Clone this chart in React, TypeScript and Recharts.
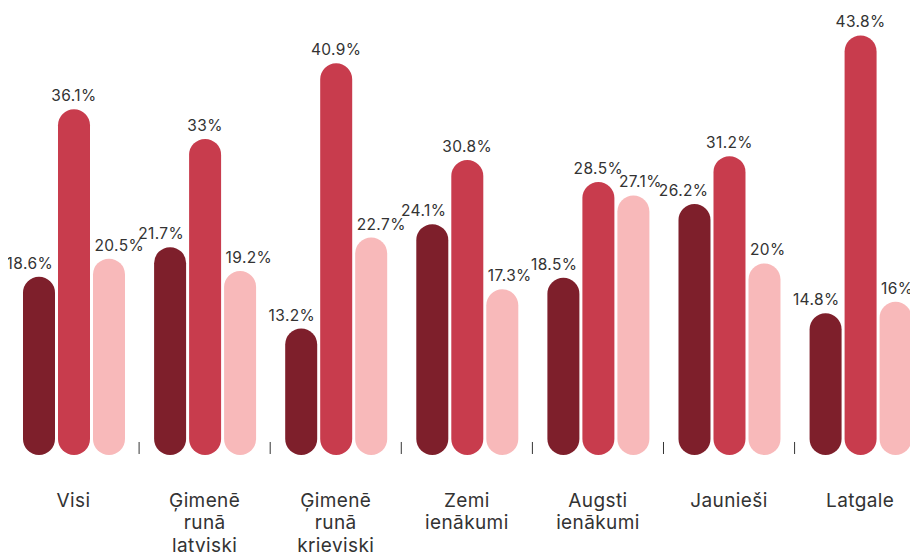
import { BarChart, Bar, XAxis, YAxis, LabelList } from "recharts";

const categories = [
  "Visi",
  "Ģimenē runā latviski",
  "Ģimenē runā krieviski",
  "Zemi ienākumi",
  "Augsti ienākumi",
  "Jaunieši",
  "Latgale",
];
const seriesA = [18.6, 21.7, 13.2, 24.1, 18.5, 26.2, 14.8];
const seriesB = [36.1, 33, 40.9, 30.8, 28.5, 31.2, 43.8];
const seriesC = [20.5, 19.2, 22.7, 17.3, 27.1, 20, 16];

const data = categories.map((name, i) => ({
  name,
  a: seriesA[i],
  b: seriesB[i],
  c: seriesC[i],
}));

const FONT = "Inter, 'Noto Sans', sans-serif";
const CHART_W = 917.7;
const BAND = CHART_W / categories.length;

function CategoryTick(props: any) {
  const { x, y, payload, index } = props;
  const words: string[] = String(payload.value).split(" ");
  return (
    <g>
      {index < categories.length - 1 && (
        <line x1={x + BAND / 2} x2={x + BAND / 2} y1={y - 13} y2={y - 1} stroke="#333" strokeWidth={1} />
      )}
      <text x={x} y={y + 52} textAnchor="middle" fontFamily={FONT} fontSize={19} letterSpacing={0.4} fill="#333">
        {words.map((w, i) => (
          <tspan key={i} x={x} dy={i === 0 ? 0 : 22.5}>
            {w}
          </tspan>
        ))}
      </text>
    </g>
  );
}

// dark labels hug the bar's right edge, light ones its left edge, middle ones are centred
const makeLabel = (anchor: "start" | "middle" | "end") => (props: any) => {
  const { x, y, width, value } = props;
  const tx = anchor === "end" ? x + width - 2 : anchor === "start" ? x + 1.5 : x + width / 2;
  return (
    <text x={tx} y={y - 8} textAnchor={anchor} fontFamily={FONT} fontSize={15.5} letterSpacing={0.4} fill="#333">
      {`${value}%`}
    </text>
  );
};

export default function App() {
  return (
    <>
      <style>{`html, body { overflow: hidden; } #root { width: ${CHART_W}px; }`}</style>
      <div style={{ width: CHART_W, height: 549 }}>
        <BarChart
          width={CHART_W}
          height={549}
          data={data}
          margin={{ top: 16, right: 0, bottom: 0, left: 0 }}
          barCategoryGap={14.55}
          barGap={3}
          style={{ overflow: "visible" }}
        >
          <XAxis
            dataKey="name"
            axisLine={false}
            tickLine={false}
            tickSize={0}
            tickMargin={0}
            height={102}
            interval={0}
            tick={<CategoryTick />}
          />
          <YAxis hide domain={[0, 45]} />
          <Bar dataKey="a" fill="#7e1f2b" barSize={32} radius={[16, 16, 16, 16]} isAnimationActive={false}>
            <LabelList dataKey="a" content={makeLabel("end")} />
          </Bar>
          <Bar dataKey="b" fill="#c83c4d" barSize={32} radius={[16, 16, 16, 16]} isAnimationActive={false}>
            <LabelList dataKey="b" content={makeLabel("middle")} />
          </Bar>
          <Bar dataKey="c" fill="#f8b9ba" barSize={32} radius={[16, 16, 16, 16]} isAnimationActive={false}>
            <LabelList dataKey="c" content={makeLabel("start")} />
          </Bar>
        </BarChart>
      </div>
    </>
  );
}
